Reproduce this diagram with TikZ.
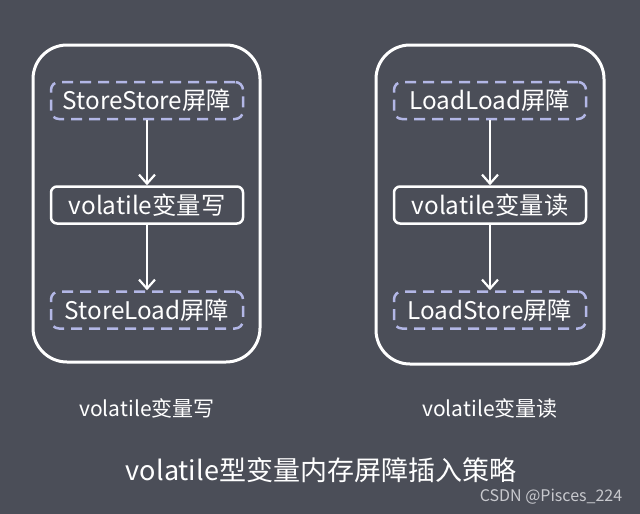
\documentclass[tikz,border=0pt]{standalone}
\usepackage{fontspec}
\setmainfont{Noto Sans CJK SC}
\usetikzlibrary{arrows.meta}
\definecolor{bggray}{HTML}{4B4E58}
\definecolor{barrierblue}{HTML}{B3B7E6}
\definecolor{markgray}{HTML}{C8C9CE}
\begin{document}
\begin{tikzpicture}[x=1pt, y=-1pt,
    outerbox/.style={draw=white, line width=3pt, rounded corners=34pt,
        minimum width=227pt, minimum height=317pt},
    barrierbox/.style={draw=barrierblue, line width=2.5pt, dash pattern=on 11pt off 7pt,
        rounded corners=8pt, minimum width=192pt, minimum height=37pt,
        text=white, font=\fontsize{24.3}{28}\selectfont},
    accessbox/.style={draw=white, line width=2.5pt, rounded corners=6pt,
        minimum width=192pt, minimum height=37pt,
        text=white, font=\fontsize{24.3}{28}\selectfont},
    flow/.style={draw=white, line width=2.2pt, -{Straight Barb[length=9pt, width=16pt, line width=2.2pt]}},
    caption/.style={text=white, font=\fontsize{21}{25}\selectfont}]
    \fill[bggray] (0,0) rectangle (640,514);
    \useasboundingbox (0,0) rectangle (640,514);

    % write side
    \node[outerbox] (writebox) at (146.5,203.5) {};
    \node[barrierbox] (storestore) at (147,100.5) {StoreStore屏障};
    \node[accessbox] (vwrite) at (147,205) {volatile变量写};
    \node[barrierbox] (storeload) at (147,310) {StoreLoad屏障};
    \draw[flow] (storestore) -- (vwrite);
    \draw[flow] (vwrite) -- (storeload);

    % read side
    \node[outerbox, minimum width=228pt, minimum height=319pt] (readbox) at (490,204.5) {};
    \node[barrierbox] (loadload) at (490,100.5) {LoadLoad屏障};
    \node[accessbox] (vread) at (490,205) {volatile变量读};
    \node[barrierbox] (loadstore) at (490,310) {LoadStore屏障};
    \draw[flow] (loadload) -- (vread);
    \draw[flow] (vread) -- (loadstore);

    \node[caption] (writelabel) at (147,408) {volatile变量写};
    \node[caption] (readlabel) at (490,408) {volatile变量读};
    \node[text=white, font=\fontsize{27}{31}\selectfont] (title) at (321,470) {volatile型变量内存屏障插入策略};
    \node[text=markgray, font=\fontsize{16}{19}\selectfont] (mark) at (551,497) {CSDN @Pisces\_224};
\end{tikzpicture}
\end{document}
